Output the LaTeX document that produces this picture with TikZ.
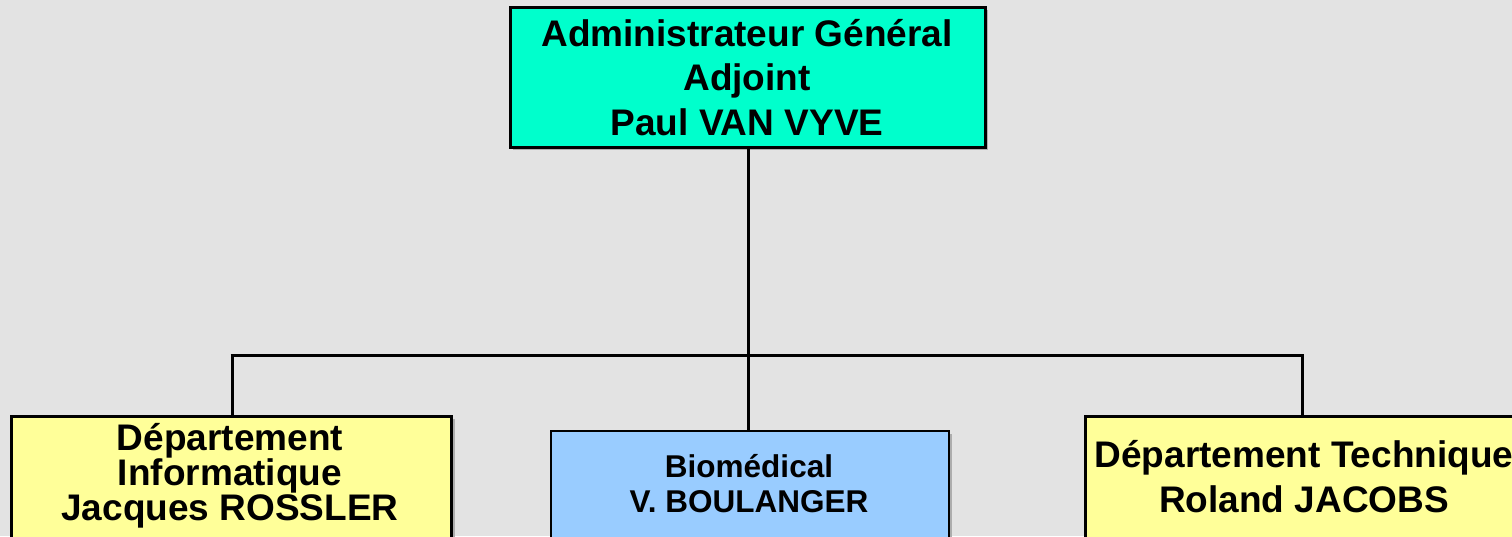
\documentclass[tikz,border=0pt]{standalone}
\usepackage{fontspec}
\setmainfont{Liberation Sans}
\definecolor{bgc}{HTML}{E3E3E3}
\definecolor{aquab}{HTML}{00FFCC}
\definecolor{yelb}{HTML}{FFFF99}
\definecolor{blueb}{HTML}{99CCFF}
\definecolor{shad}{HTML}{ADADAD}
\begin{document}
\begin{tikzpicture}[x=1pt,y=-1pt,
  boxstyle/.style={draw=black, line width=3pt, inner sep=0pt, outer sep=0pt},
  shadowstyle/.style={fill=shad, draw=none},
  linkstyle/.style={draw=black, line width=3pt},
  bigtext/.style={font=\fontsize{37}{44.5}\selectfont\bfseries, align=center, inner sep=0pt, anchor=base},
  tighttext/.style={font=\fontsize{37}{33.5}\selectfont\bfseries, align=center, inner sep=0pt, anchor=base},
  midtext/.style={font=\fontsize{31.5}{35}\selectfont\bfseries, align=center, inner sep=0pt, anchor=base}]
\useasboundingbox (0,0) rectangle (1512,536);
\clip (0,0) rectangle (1512,536);
\fill[bgc] (0,0) rectangle (1512,536);
% shadows
\fill[shadowstyle] (513,10) rectangle (988,150);
\fill[shadowstyle] (14,419) rectangle (455,570);
\fill[shadowstyle] (554,434) rectangle (952,570);
\fill[shadowstyle] (1088,419) rectangle (1525,570);
% boxes
\node[boxstyle, fill=aquab, minimum width=475pt, minimum height=140pt] (top) at (747.5,77) {};
\node[boxstyle, fill=yelb, minimum width=440pt, minimum height=150pt] (left) at (231,491.5) {};
\node[boxstyle, fill=blueb, line width=2.5pt, minimum width=398pt, minimum height=140pt] (mid) at (750,501) {};
\node[boxstyle, fill=yelb, minimum width=436pt, minimum height=150pt] (right) at (1303,491.5) {};
% connectors
\coordinate (hub) at (748,355);
\coordinate (hl) at (232,355);
\coordinate (hr) at (1302,355);
\draw[linkstyle] (top.south -| hub) -- (hub);
\draw[linkstyle] ([xshift=-1.5pt]hl) -- ([xshift=1.5pt]hr);
\draw[linkstyle] (hl) -- (hl |- left.north);
\draw[linkstyle] (hub) -- (hub |- mid.north);
\draw[linkstyle] (hr) -- (hr |- right.north);
% texts
\node[bigtext] (toptext) at (747,135) {Administrateur Général\\Adjoint\\Paul VAN VYVE};
\node[tighttext] (lefttext) at (230,520) {Département\\Informatique\\Jacques ROSSLER};
\node[midtext] (midtext) at (749,512) {Biomédical\\V. BOULANGER};
\node[bigtext] (righttext) at (1304,512) {Département Technique\\Roland JACOBS};
\end{tikzpicture}
\end{document}
